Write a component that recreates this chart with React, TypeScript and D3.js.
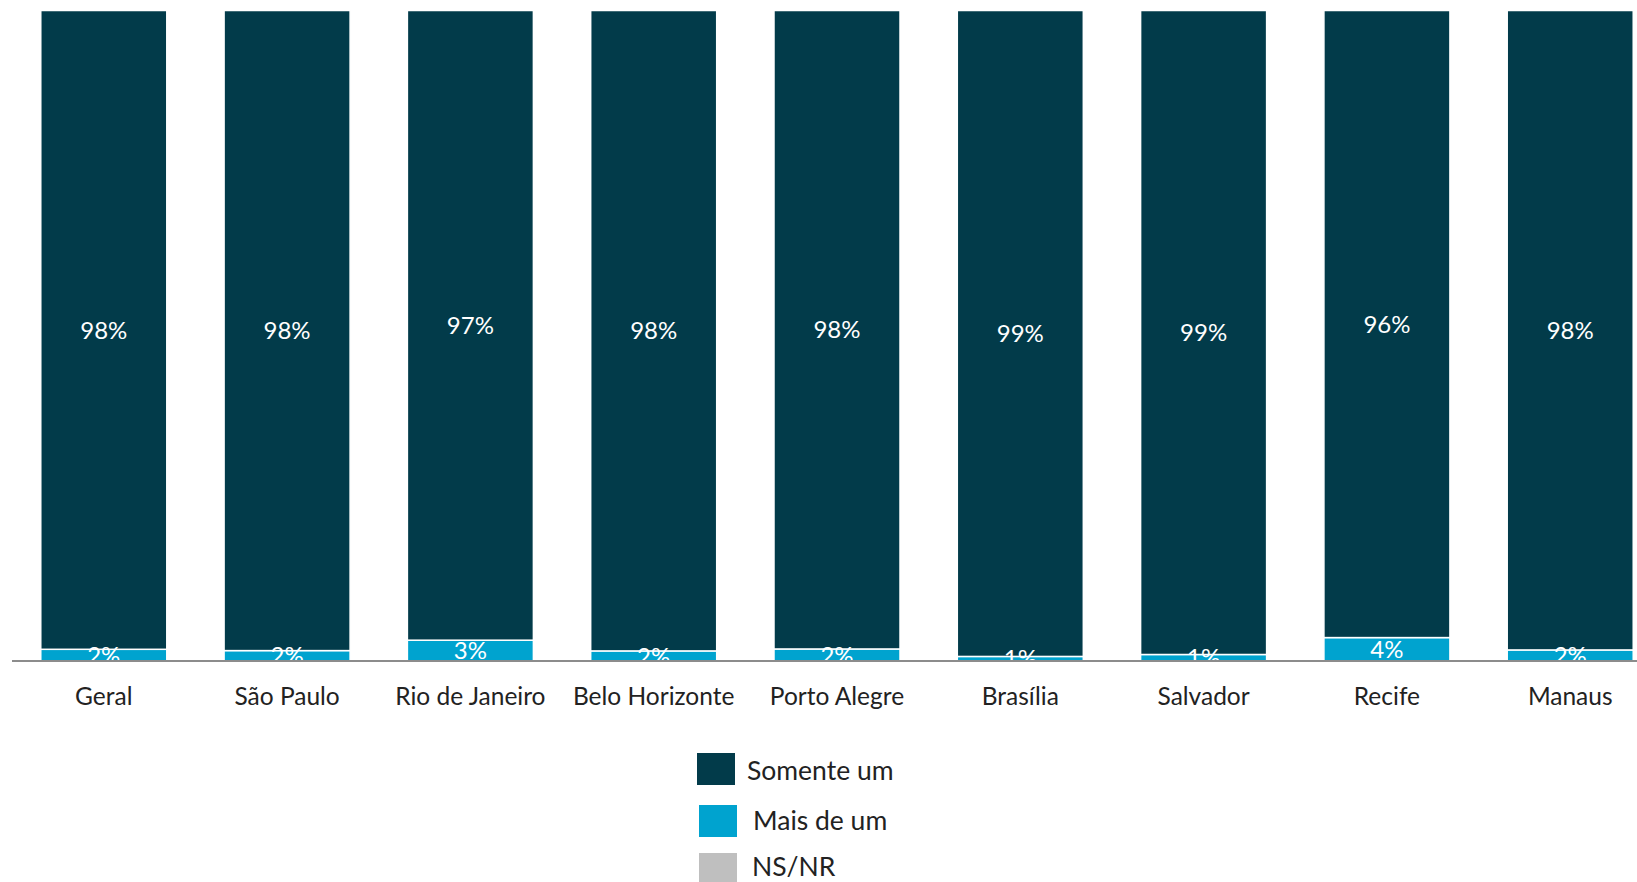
import React from "react";
import * as d3 from "d3";

const categories = ["Geral", "São Paulo", "Rio de Janeiro", "Belo Horizonte", "Porto Alegre", "Brasília", "Salvador", "Recife", "Manaus"];
const maisDeUm = [1.8, 1.6, 3.2, 1.55, 1.85, 0.7, 1.0, 3.6, 1.7];
const somenteUm = [98.2, 98.4, 96.8, 98.45, 98.15, 99.3, 99.0, 96.4, 98.3];
const nsnr = [0, 0, 0, 0, 0, 0, 0, 0, 0];
const seriesNames = ["Somente um", "Mais de um", "NS/NR"];
const seriesColors = ["#023B4A", "#00A3CF", "#BFBFBF"];

const W = 1637;
const H = 882;
const baseY = 661;
const topY = 10.5;
const FONT = "Lato, 'Open Sans', sans-serif";

export default function App() {
  const x = d3.scaleBand<string>().domain(categories).range([12, 1662]).paddingInner(0.3126).paddingOuter(0.157);
  const y = d3.scaleLinear().domain([0, 100]).range([baseY, topY]);

  const rows = categories.map((c, i) => ({ cat: c, mais: maisDeUm[i], somente: somenteUm[i], ns: nsnr[i] }));
  const stacked = d3.stack<any>().keys(["mais", "somente", "ns"])(rows);
  const colorFor: Record<string, string> = { somente: seriesColors[0], mais: seriesColors[1], ns: seriesColors[2] };

  const legend = [
    { name: seriesNames[0], color: seriesColors[0], sx: 697, sy: 753, tx: 747, ty: 780 },
    { name: seriesNames[1], color: seriesColors[1], sx: 699, sy: 805, tx: 753, ty: 830 },
    { name: seriesNames[2], color: seriesColors[2], sx: 699, sy: 853, tx: 752, ty: 876 },
  ];

  return (
    <svg width={W} height={H} style={{ position: "absolute", left: 0, top: 0, background: "#fff" }} fontFamily={FONT}>
      <defs>
        <clipPath id="plot">
          <rect x={0} y={0} width={W} height={baseY} />
        </clipPath>
      </defs>
      <g clipPath="url(#plot)">
        {stacked.map((layer) =>
          layer.map((d, i) => {
            const h = y(d[0]) - y(d[1]);
            if (h <= 0) return null;
            return (
              <rect
                key={layer.key + i}
                x={x(categories[i])}
                y={y(d[1])}
                width={x.bandwidth()}
                height={h}
                fill={colorFor[layer.key]}
                stroke="#ffffff"
                strokeWidth={1.5}
              />
            );
          })
        )}
        {stacked.map((layer) =>
          layer.map((d, i) => {
            const v = d[1] - d[0];
            if (v <= 0) return null;
            return (
              <text
                key={"t" + layer.key + i}
                x={(x(categories[i]) as number) + x.bandwidth() / 2}
                y={(y(d[0]) + y(d[1])) / 2}
                dy="0.36em"
                textAnchor="middle"
                fill="#ffffff"
                fontSize={24}
              >
                {Math.round(v) + "%"}
              </text>
            );
          })
        )}
      </g>
      <line x1={12} x2={W} y1={baseY} y2={baseY} stroke="#8C8C8C" strokeWidth={2} />
      {categories.map((c) => (
        <text key={c} x={(x(c) as number) + x.bandwidth() / 2} y={705} textAnchor="middle" fill="#222" fontSize={24.5}>
          {c}
        </text>
      ))}
      {legend.map((l) => (
        <g key={l.name}>
          <rect x={l.sx} y={l.sy} width={38} height={32} fill={l.color} />
          <text x={l.tx} y={l.ty} fill="#222" fontSize={26.5}>
            {l.name}
          </text>
        </g>
      ))}
    </svg>
  );
}
